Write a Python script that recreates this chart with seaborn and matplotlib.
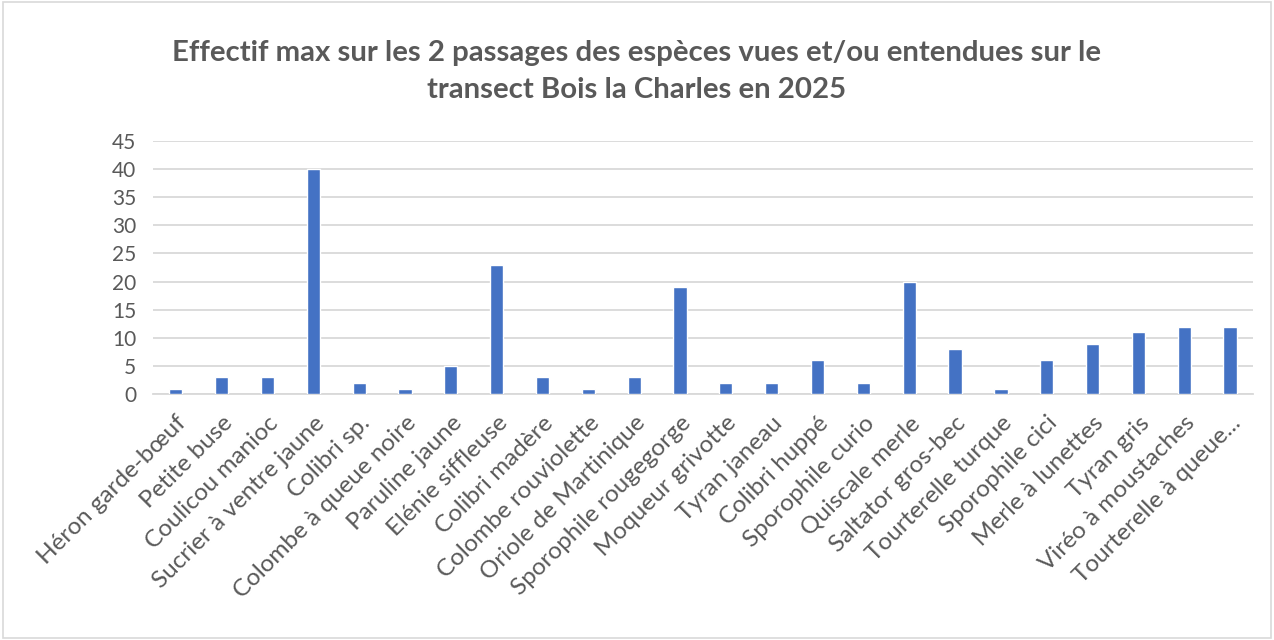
import matplotlib
matplotlib.use("Agg")
import matplotlib.pyplot as plt
import seaborn as sns
import pandas as pd
from matplotlib.patches import Rectangle

especes = ["Héron garde-bœuf", "Petite buse", "Coulicou manioc", "Sucrier à ventre jaune",
           "Colibri sp.", "Colombe à queue noire", "Paruline jaune", "Elénie siffleuse",
           "Colibri madère", "Colombe rouviolette", "Oriole de Martinique", "Sporophile rougegorge",
           "Moqueur grivotte", "Tyran janeau", "Colibri huppé", "Sporophile curio",
           "Quiscale merle", "Saltator gros-bec", "Tourterelle turque", "Sporophile cici",
           "Merle à lunettes", "Tyran gris", "Viréo à moustaches", "Tourterelle à queue..."]
effectifs = [1, 3, 3, 40, 2, 1, 5, 23, 3, 1, 3, 19, 2, 2, 6, 2, 20, 8, 1, 6, 9, 11, 12, 12]
yticks = [0, 5, 10, 15, 20, 25, 30, 35, 40, 45]
titre = "Effectif max sur les 2 passages des espèces vues et/ou entendues sur le\ntransect Bois la Charles en 2025"

sns.set_theme(style="white")
plt.rcParams['font.family'] = ['Lato', 'DejaVu Sans']

df = pd.DataFrame({"espece": especes, "effectif": effectifs})

fig = plt.figure(figsize=(12.74, 6.4), dpi=100)
ax = fig.add_axes([0.120, 0.384, 0.8635, 0.396])
sns.barplot(data=df, x="espece", y="effectif", color="#4472C4", width=0.29,
            saturation=1, ax=ax, zorder=3)

ax.set_ylim(0, 45)
ax.set_yticks(yticks)
ax.set_xlim(-0.5, len(especes) - 0.5)
ax.yaxis.grid(True, color="#D9D9D9", linewidth=1.3, zorder=0)
ax.set_axisbelow(True)
for s in ["top", "right", "left"]:
    ax.spines[s].set_visible(False)
ax.spines["bottom"].set_color("#D9D9D9")
ax.spines["bottom"].set_linewidth(1.3)
ax.set_xlabel("")
ax.set_ylabel("")
ax.tick_params(axis="both", length=0, colors="#595959")
ax.tick_params(axis="y", pad=12, labelsize=15)
ax.tick_params(axis="x", pad=13, labelsize=17.5)
plt.setp(ax.get_xticklabels(), rotation=45, ha="right", rotation_mode="anchor")

fig.text(0.5, 0.888, titre, ha="center", va="center", fontsize=21.2, fontweight="bold",
         color="#595959", linespacing=1.55)

fig.patches.append(Rectangle((0.002, 0.003), 0.996, 0.994, transform=fig.transFigure,
                             fill=False, edgecolor="#D9D9D9", linewidth=1.2))

fig.savefig("out.png", dpi=100)
